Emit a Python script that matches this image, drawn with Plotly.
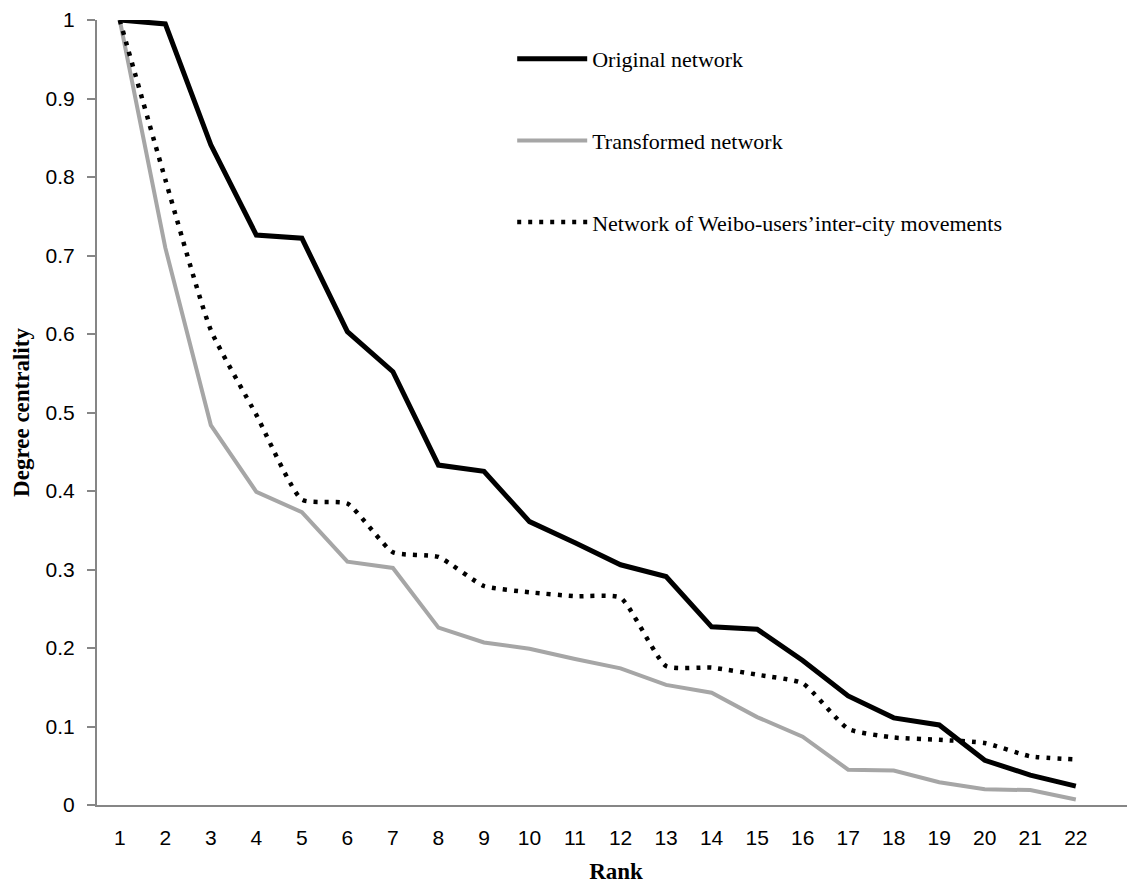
import plotly.graph_objects as go

ranks = list(range(1, 23))
original = [1.0, 0.995, 0.841, 0.726, 0.722, 0.603, 0.552, 0.433, 0.425, 0.361, 0.334, 0.306,
            0.291, 0.227, 0.224, 0.184, 0.139, 0.111, 0.102, 0.057, 0.038, 0.024]
transformed = [1.0, 0.71, 0.484, 0.399, 0.373, 0.31, 0.302, 0.226, 0.207, 0.199, 0.186, 0.174,
               0.153, 0.143, 0.112, 0.087, 0.045, 0.044, 0.029, 0.020, 0.019, 0.007]
weibo = [1.0, 0.797, 0.605, 0.497, 0.389, 0.384, 0.322, 0.316, 0.279, 0.271, 0.266, 0.264,
         0.177, 0.175, 0.166, 0.155, 0.097, 0.086, 0.083, 0.079, 0.062, 0.058]
names = ["Original network", "Transformed network", "Network of Weibo-users\u2019inter-city movements"]

fig = go.Figure()
fig.add_trace(go.Scatter(x=ranks, y=original, mode="lines", name=names[0], legendgroup="a",
                         line=dict(color="#000000", width=5), cliponaxis=False))
fig.add_trace(go.Scatter(x=ranks, y=transformed, mode="lines", name=names[1], legendgroup="b",
                         line=dict(color="#a6a6a6", width=4), cliponaxis=False))
fig.add_trace(go.Scatter(x=ranks, y=weibo, mode="lines", name=names[2], legendgroup="c",
                         line=dict(color="#000000", width=4.5, dash="4px,7px", shape="spline", smoothing=0.5),
                         cliponaxis=False))

fig.update_layout(
    width=1127, height=876,
    margin=dict(l=89, r=0, t=12, b=79),
    paper_bgcolor="white", plot_bgcolor="white",
    showlegend=True,
    legend=dict(x=0.4, y=0.977, xanchor="left", yanchor="top",
                font=dict(family="Liberation Serif", size=22, color="#000000"),
                itemwidth=70, tracegroupgap=50, bgcolor="rgba(0,0,0,0)"),
    xaxis=dict(range=[0.5, 23.3], tickvals=ranks, ticktext=[str(r) for r in ranks],
               showline=True, linecolor="#868686", linewidth=2, ticks="", showgrid=False, zeroline=False,
               tickfont=dict(family="Liberation Sans", size=21, color="#000000"), ticklabelstandoff=13,
               title=dict(text="<b>Rank</b>", font=dict(family="Liberation Serif", size=23, color="#000000"),
                          standoff=18)),
    yaxis=dict(range=[0, 1], dtick=0.1, tick0=0, showline=True, linecolor="#868686", linewidth=2,
               ticks="outside", ticklen=8, tickcolor="#868686", tickwidth=2, showgrid=False, zeroline=False,
               tickfont=dict(family="Liberation Sans", size=21, color="#000000"), ticklabelstandoff=8,
               title=dict(text="<b>Degree centrality</b>",
                          font=dict(family="Liberation Serif", size=23, color="#000000"), standoff=10)),
)

fig.write_html("out.html")
